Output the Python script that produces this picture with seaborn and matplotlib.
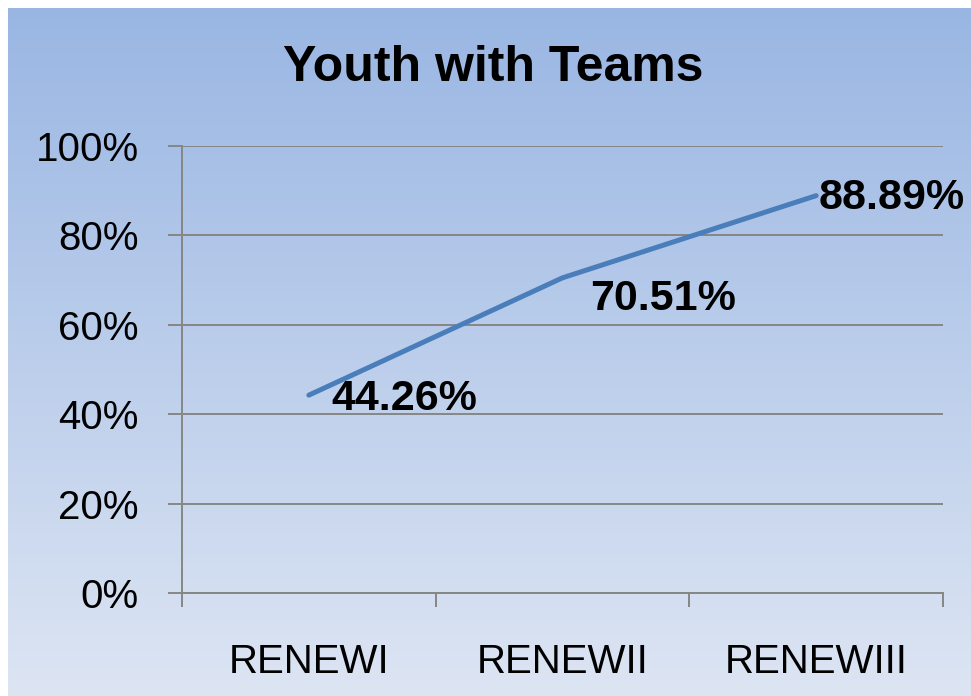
import numpy as np
import pandas as pd
import matplotlib
matplotlib.use("Agg")
import matplotlib.pyplot as plt
import seaborn as sns
from matplotlib.colors import LinearSegmentedColormap
from matplotlib.ticker import FixedLocator, PercentFormatter

# Dados
rounds = ["RENEWI", "RENEWII", "RENEWIII"]
youth_with_teams = [44.26, 70.51, 88.89]
y_ticks = [0, 20, 40, 60, 80, 100]

df = pd.DataFrame({"round": rounds, "pct": youth_with_teams})

sns.set_theme(style="white")
plt.rcParams["font.family"] = ["Liberation Sans", "DejaVu Sans"]
plt.rcParams["text.color"] = "black"

W, H = 971, 696
fig = plt.figure(figsize=(W / 100, H / 100), dpi=100)
fig.patch.set_facecolor("white")

# fundo em degrade
bg = fig.add_axes([8 / W, 0, 1 - 8 / W, (H - 8) / H], zorder=-10)
cmap = LinearSegmentedColormap.from_list("bg", ["#99b6e3", "#dde5f3"])
bg.imshow(np.linspace(0, 1, 256).reshape(-1, 1), aspect="auto", cmap=cmap,
          extent=[0, 1, 0, 1], origin="upper")
bg.axis("off")

ax = fig.add_axes([182 / W, (H - 593) / H, (943 - 182) / W, (593 - 146) / H])
ax.patch.set_alpha(0)

sns.lineplot(data=df, x="round", y="pct", ax=ax, color="#4a7ebb", linewidth=3.6,
             sort=False, solid_capstyle="round")

ax.set_xlim(-0.5, 2.5)
ax.set_ylim(0, 100)
ax.yaxis.set_major_locator(FixedLocator(y_ticks))
ax.yaxis.set_major_formatter(PercentFormatter(decimals=0))
ax.grid(axis="y", color="#868686", linewidth=1.4)
ax.set_axisbelow(True)

for s in ["top", "right"]:
    ax.spines[s].set_visible(False)
for s in ["left", "bottom"]:
    ax.spines[s].set_color("#868686")
    ax.spines[s].set_linewidth(1.4)

ax.tick_params(axis="y", which="major", left=True, length=10, width=1.4,
               color="#868686", labelsize=29, pad=21, labelcolor="black")
ax.tick_params(axis="x", which="major", bottom=False, labelsize=29, pad=30,
               labelcolor="black")
ax.xaxis.set_minor_locator(FixedLocator([-0.5, 0.5, 1.5, 2.5]))
ax.tick_params(axis="x", which="minor", bottom=True, length=10, width=1.4,
               color="#868686")
ax.set_xlabel("")
ax.set_ylabel("")

# rotulos
offsets = [(16, -3), (20, -15), (2, -2)]
for i, (v, off) in enumerate(zip(youth_with_teams, offsets)):
    ax.annotate(f"{v:.2f}%", (i, v), xytext=off, textcoords="offset points",
                ha="left", va="center", fontsize=31, fontweight="bold",
                color="black", annotation_clip=False)

fig.text((283 + 703) / 2 / W, 1 - 68 / H, "Youth with Teams", ha="center",
         va="center", fontsize=36, fontweight="bold", color="black")

fig.savefig("out.png", dpi=100)
